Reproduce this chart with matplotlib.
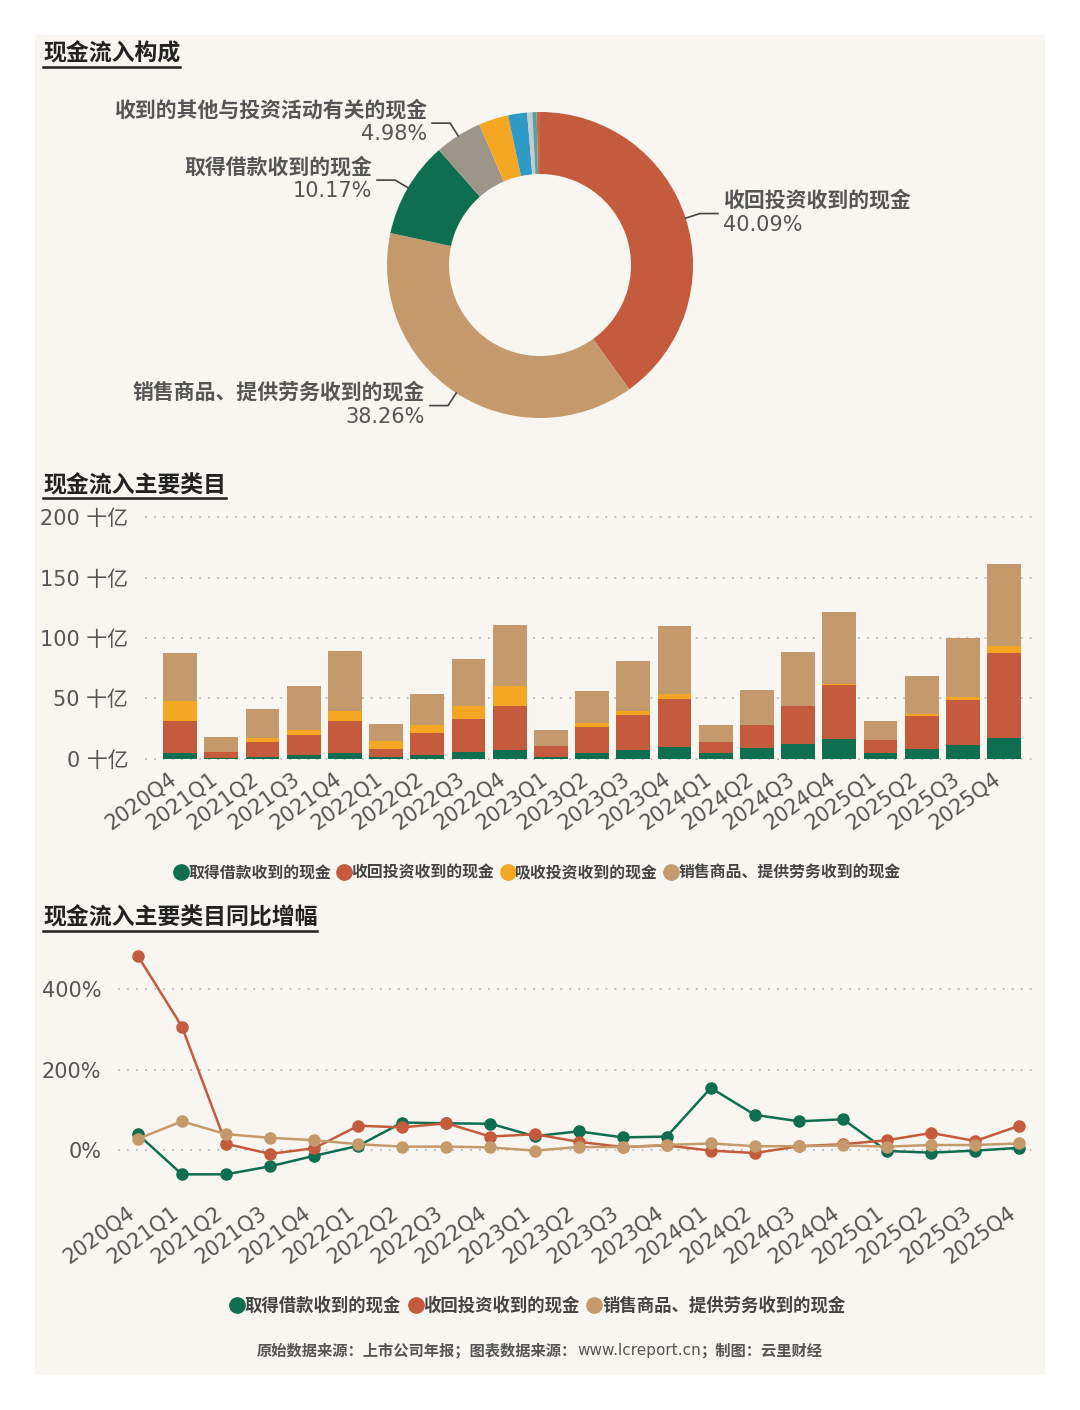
import matplotlib
matplotlib.use('Agg')
import numpy as np
import matplotlib.pyplot as plt
import matplotlib.transforms as mtrans
from matplotlib.lines import Line2D

plt.rcParams['font.family'] = ['DejaVu Sans', 'Noto Sans CJK SC']

# ---- data ----
pie_names = ['收回投资收到的现金', '销售商品、提供劳务收到的现金', '取得借款收到的现金',
             '收到的其他与投资活动有关的现金', '吸收投资收到的现金', '收到其他与经营活动有关的现金',
             '取得投资收益收到的现金', '处置固定资产收回的现金净额', '其他']
pie_vals = [40.09, 38.26, 10.17, 4.98, 3.15, 2.00, 0.55, 0.45, 0.35]
pie_colors = ['#c45b3c', '#c49a6c', '#0f6e50', '#9e958a', '#f5a623', '#2e9ac6',
              '#c9c9d2', '#4aa8a0', '#d0654a']

quarters = ['2020Q4', '2021Q1', '2021Q2', '2021Q3', '2021Q4', '2022Q1', '2022Q2',
            '2022Q3', '2022Q4', '2023Q1', '2023Q2', '2023Q3', '2023Q4', '2024Q1',
            '2024Q2', '2024Q3', '2024Q4', '2025Q1', '2025Q2', '2025Q3', '2025Q4']
# 十亿
borrow = [5.0, 0.8, 1.9, 3.3, 4.7, 1.4, 3.3, 5.8, 7.4, 1.4, 4.7, 7.4, 9.6, 4.7,
          8.8, 12.4, 16.8, 4.7, 8.0, 11.8, 17.6]
invest = [26.7, 4.7, 11.9, 16.5, 27.0, 6.9, 17.9, 27.3, 36.7, 9.6, 21.5, 28.7, 39.7, 9.6,
          19.0, 31.1, 44.1, 11.0, 27.3, 37.2, 70.3]
absorb = [16.0, 0.0, 3.8, 4.4, 8.2, 6.3, 6.6, 11.0, 16.0, 0.0, 3.3, 3.8, 4.7, 0.0,
          0.6, 0.6, 1.4, 0.0, 2.2, 2.0, 5.8]
sales = [40.2, 12.4, 24.0, 35.9, 49.4, 14.1, 25.9, 38.8, 50.6, 13.2, 27.0, 41.1, 56.2, 14.1,
         28.6, 44.3, 59.5, 15.4, 31.4, 49.0, 67.5]

# 同比 %
yoy_borrow = [39, -61, -61, -41, -15, 10, 68, 66, 65, 34, 46, 31, 33, 154,
              87, 71, 76, -3, -7, -2, 5]
yoy_invest = [483, 307, 15, -10, 4, 60, 56, 66, 33, 39, 20, 7, 11, -2,
              -8, 9, 14, 24, 42, 22, 60]
yoy_sales = [27, 71, 39, 30, 24, 14, 8, 8, 6, -2, 7, 7, 12, 16,
             9, 9, 11, 8, 12, 12, 16]

bar_names = ['取得借款收到的现金', '收回投资收到的现金', '吸收投资收到的现金', '销售商品、提供劳务收到的现金']
line_names = ['取得借款收到的现金', '收回投资收到的现金', '销售商品、提供劳务收到的现金']

GREEN, RED, ORANGE, TAN = '#0f6e50', '#c45b3c', '#f5a623', '#c49a6c'
TXT = '#555555'
W, H = 1080, 1410


def fr(x0, y0, x1, y1):
    # pixel box (top-left origin) -> figure fraction rect
    return [x0 / W, 1 - y1 / H, (x1 - x0) / W, (y1 - y0) / H]


fig = plt.figure(figsize=(10.8, 14.1), dpi=100)
fig.patch.set_facecolor('white')
bg = fig.add_axes(fr(35, 35, 1045, 1375), zorder=-10)
bg.set_facecolor('#f9f6f2')
bg.set_xticks([])
bg.set_yticks([])
for sp in bg.spines.values():
    sp.set_visible(False)

# ---- donut ----
ax0 = fig.add_axes([0, 0, 1, 1])
ax0.set_facecolor('none')
cx, cy, R = 540, H - 265, 153
ax0.pie(pie_vals, colors=pie_colors, startangle=90, counterclock=False,
        radius=R, center=(cx, cy), wedgeprops=dict(width=62, linewidth=0))
ax0.set_xlim(0, W)
ax0.set_ylim(0, H)
ax0.axis('off')

cum = np.cumsum([0] + pie_vals)
tot = cum[-1]
for i in range(4):
    th = np.deg2rad((cum[i] + cum[i + 1]) / 2 / tot * 360)
    dx, dy = np.sin(th), np.cos(th)
    p0 = (cx + R * dx, cy + R * dy)
    p1 = (cx + (R + 15) * dx, cy + (R + 15) * dy)
    s = 1 if dx > 0 else -1
    p2 = (p1[0] + 18 * s, p1[1])
    ax0.plot([p0[0], p1[0], p2[0]], [p0[1], p1[1], p2[1]], color='#444444', lw=1.2)
    ha = 'left' if s > 0 else 'right'
    tx = p2[0] + 5 * s
    ax0.text(tx, p2[1] + 3, pie_names[i], ha=ha, va='bottom', fontsize=15, color=TXT,
             fontweight='bold')
    ax0.text(tx, p2[1] - 1, f'{pie_vals[i]:.2f}%', ha=ha, va='top', fontsize=15, color=TXT)


def style_xlabels(ax):
    off = mtrans.ScaledTranslation(-9 / 100, 0, fig.dpi_scale_trans)
    for lab in ax.get_xticklabels():
        lab.set_transform(lab.get_transform() + off)


# ---- stacked bars ----
ax1 = fig.add_axes(fr(145, 511, 1037, 761.4))
ax1.set_facecolor('none')
x = np.arange(len(quarters))
bottom = np.zeros(len(quarters))
for vals, col in zip([borrow, invest, absorb, sales], [GREEN, RED, ORANGE, TAN]):
    ax1.bar(x, vals, 0.82, bottom=bottom, color=col, linewidth=0)
    bottom += np.array(vals)
ax1.set_xlim(-0.85, 20.8)
ax1.set_ylim(-2, 205)
ax1.set_yticks([0, 50, 100, 150, 200])
ax1.set_yticklabels([f'{v} 十亿' for v in [0, 50, 100, 150, 200]])
ax1.set_xticks(x)
ax1.set_xticklabels(quarters, rotation=36, ha='right', va='top')
style_xlabels(ax1)
ax1.yaxis.grid(True, linestyle=(0, (1, 4)), color='#bbbbbb', linewidth=1.3)
ax1.set_axisbelow(True)
for sp in ax1.spines.values():
    sp.set_visible(False)
ax1.tick_params(length=0, labelsize=15, labelcolor=TXT)
ax1.tick_params(axis='y', pad=12)
ax1.tick_params(axis='x', pad=5)

# ---- yoy lines ----
ax2 = fig.add_axes(fr(118, 949, 1037, 1190))
ax2.set_facecolor('none')
for vals, col in zip([yoy_borrow, yoy_invest, yoy_sales], [GREEN, RED, TAN]):
    ax2.plot(x, vals, color=col, lw=1.8, marker='o', markersize=8)
ax2.set_xlim(-0.45, 20.4)
ax2.set_ylim(-100, 500)
ax2.set_yticks([0, 200, 400])
ax2.set_yticklabels([f'{v}%' for v in [0, 200, 400]])
ax2.set_xticks(x)
ax2.set_xticklabels(quarters, rotation=36, ha='right', va='top')
style_xlabels(ax2)
ax2.yaxis.grid(True, linestyle=(0, (1, 4)), color='#bbbbbb', linewidth=1.3)
ax2.set_axisbelow(True)
for sp in ax2.spines.values():
    sp.set_visible(False)
ax2.tick_params(length=0, labelsize=15, labelcolor=TXT)
ax2.tick_params(axis='y', pad=12)
ax2.tick_params(axis='x', pad=9)

# ---- legends ----
def handles(cols):
    return [Line2D([], [], marker='o', linestyle='none', markersize=11,
                   markerfacecolor=c, markeredgecolor=c) for c in cols]


leg_kw = dict(loc='center', frameon=False, handlelength=0.7, handletextpad=0.1,
              columnspacing=0.5, borderaxespad=0)
fig.legend(handles([GREEN, RED, ORANGE, TAN]), bar_names, ncol=4,
           bbox_to_anchor=(538 / W, 1 - 873 / H),
           prop=dict(family='Noto Sans CJK SC', size=11.4, weight='bold'),
           labelcolor='#444444', **leg_kw)
fig.legend(handles([GREEN, RED, TAN]), line_names, ncol=3,
           bbox_to_anchor=(538 / W, 1 - 1306 / H),
           prop=dict(family='Noto Sans CJK SC', size=12.5, weight='bold'),
           labelcolor='#444444', **leg_kw)

# ---- footer (three parts, url in regular weight) ----
foot = [('原始数据来源：上市公司年报；图表数据来源：', 'bold'), ('www.lcreport.cn', 'normal'),
        ('；制图：云里财经', 'bold')]
ftxt = [fig.text(0, 1 - 1351 / H, s, ha='left', va='center', fontsize=11, color=TXT,
                 fontweight=wt) for s, wt in foot]

# ---- underlined section titles ----
titles = [(43, 54, '现金流入构成'), (43, 486, '现金流入主要类目'), (43, 918, '现金流入主要类目同比增幅')]
tobjs = [fig.text(tx / W, 1 - ty / H, s, ha='left', va='center', fontsize=16.5,
                  fontweight='bold', color='#222222') for tx, ty, s in titles]
fig.canvas.draw()
widths = [t.get_window_extent().width for t in ftxt]
xpos = 540 - sum(widths) / 2
for t, w in zip(ftxt, widths):
    t.set_x(xpos / W)
    xpos += w
for t in tobjs:
    bb = t.get_window_extent()
    yline = (bb.y0 - 1) / H
    fig.add_artist(Line2D([bb.x0 / W, bb.x1 / W], [yline, yline], color='#222222',
                          lw=1.8, transform=fig.transFigure))

fig.savefig('out.png', dpi=100, facecolor='white')
